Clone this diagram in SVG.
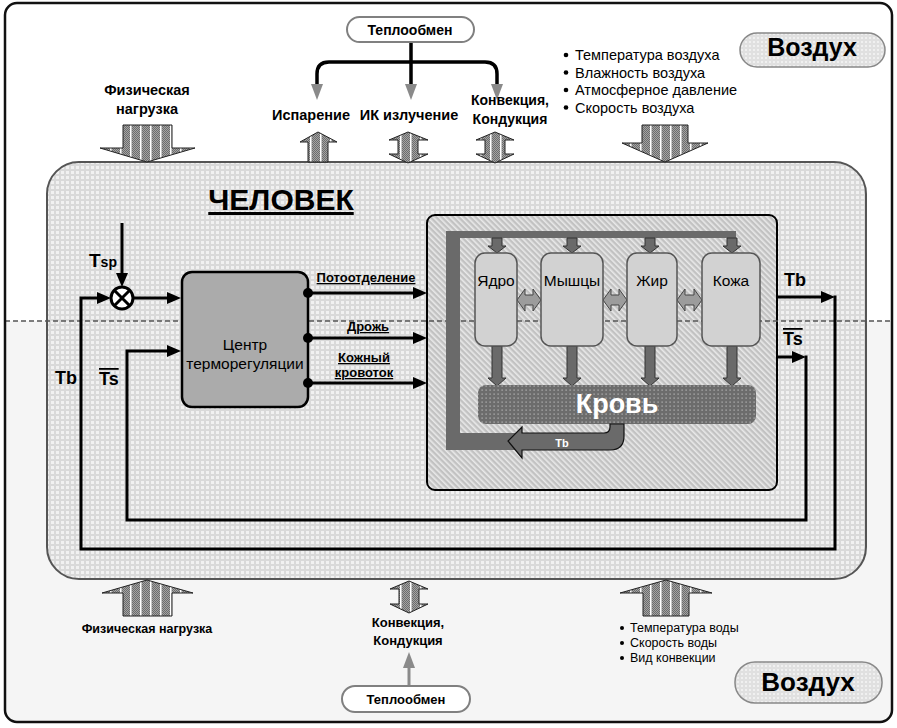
<svg xmlns="http://www.w3.org/2000/svg" width="897" height="728" viewBox="0 0 897 728">
<defs>
<style>
text{font-family:"Liberation Sans",Arial,sans-serif;fill:#000}
.b{font-weight:bold}
.m{text-anchor:middle}
.ln{fill:none;stroke:#000;stroke-width:3}
.blk{fill:url(#stripe);stroke:#222;stroke-width:1}
.org{fill:#d2d2d2;stroke:#555;stroke-width:1.5}
.garr{fill:#6a6a6a;stroke:#333;stroke-width:1}
.darr{fill:#9c9c9c;stroke:#444;stroke-width:1}
.pill{stroke:#808080;stroke-width:2}
</style>
<pattern id="grid" width="5" height="5" patternUnits="userSpaceOnUse">
<rect width="5" height="5" fill="#d9d9d9"/>
<rect x="1" y="1" width="3" height="3" fill="#f1f1f1"/>
</pattern>
<pattern id="grid2" width="4" height="4" patternUnits="userSpaceOnUse">
<rect width="4" height="4" fill="#e0e0e0"/>
<rect x="1" y="1" width="2" height="2" fill="#f0f0f0"/>
</pattern>
<pattern id="hatch" width="4" height="4" patternUnits="userSpaceOnUse" patternTransform="rotate(-45)">
<rect width="4" height="4" fill="#c2c2c2"/>
<rect width="1.6" height="4" fill="#e9e9e9"/>
</pattern>
<pattern id="dots" width="4" height="4" patternUnits="userSpaceOnUse">
<rect width="4" height="4" fill="#6c6c6c"/>
<rect x="1.5" y="1.5" width="1.2" height="1.2" fill="#bdbdbd"/>
</pattern>
<pattern id="stripe" width="10" height="2" patternUnits="userSpaceOnUse">
<rect width="10" height="2" fill="#a4a4a4"/>
<path d="M2 0h1v1h-1zM4 0h1v1h-1zM6 0h1v1h-1zM8 0h1v1h-1zM3 1h1v1h-1zM5 1h1v1h-1zM7 1h1v1h-1zM9 1h1v1h-1z" fill="#6c6c6c"/>
<rect width="1.4" height="2" fill="#ffffff"/>
</pattern>
<marker id="ah" viewBox="0 0 14 12" refX="2" refY="6" markerWidth="14" markerHeight="12" markerUnits="userSpaceOnUse" orient="auto">
<path d="M0 0L14 6L0 12z" fill="#000"/>
</marker>
<marker id="gh" viewBox="0 0 16 12" refX="0" refY="6" markerWidth="16" markerHeight="12" markerUnits="userSpaceOnUse" orient="auto">
<path d="M0 0L16 6L0 12z" fill="#8a8a8a"/>
</marker>
</defs>

<g id="frame">
<rect x="5" y="3" width="887" height="719" rx="12" fill="#f5f5f5"/>
<path d="M5 321V15Q5 3 17 3H880Q892 3 892 15V321Z" fill="#ffffff"/>
</g>

<g id="human">
<rect x="47" y="162" width="819" height="417" rx="32" fill="url(#grid)" stroke="#555" stroke-width="2"/>
<text x="281" y="210" class="b m" font-size="30" text-decoration="underline">ЧЕЛОВЕК</text>
</g>

<g id="body">
<rect x="427" y="215" width="350" height="275" rx="8" fill="url(#hatch)" stroke="#000" stroke-width="2"/>
</g>

<path id="divider" d="M5 321H893" stroke="#555" stroke-width="1.5" stroke-dasharray="5 3" fill="none"/>

<g id="circulation">
<rect x="446" y="231" width="290" height="7" fill="#6a6a6a"/>
<rect x="446" y="231" width="14" height="219" fill="#6a6a6a"/>
<rect x="446" y="433" width="78" height="17" fill="#6a6a6a"/>
<polygon class="garr" points="492,238 502,238 502,246 506,246 497,253 488,246 492,246"/>
<polygon class="garr" points="567,238 577,238 577,246 581,246 572,253 563,246 567,246"/>
<polygon class="garr" points="645,238 655,238 655,246 659,246 650,253 641,246 645,246"/>
<polygon class="garr" points="727,238 737,238 737,246 741,246 732,253 723,246 727,246"/>
<polygon class="garr" points="492,346 502,346 502,378 506,378 497,386 488,378 492,378"/>
<polygon class="garr" points="567,346 577,346 577,378 581,378 572,386 563,378 567,378"/>
<polygon class="garr" points="645,346 655,346 655,378 659,378 650,386 641,378 645,378"/>
<polygon class="garr" points="727,346 737,346 737,378 741,378 732,386 723,378 727,378"/>
<polygon class="darr" points="517,300 525,289 525,295 533,295 533,289 541,300 533,311 533,305 525,305 525,311"/>
<polygon class="darr" points="603,300 611,289 611,295 619,295 619,289 627,300 619,311 619,305 611,305 611,311"/>
<polygon class="darr" points="677,300 685,289 685,295 694,295 694,289 702,300 694,311 694,305 685,305 685,311"/>
</g>

<g id="organ-core"><rect class="org" x="475" y="253" width="42" height="93" rx="10"/><text x="496" y="286" class="m" font-size="15.5">Ядро</text></g>
<g id="organ-muscle"><rect class="org" x="541" y="253" width="62" height="93" rx="10"/><text x="572" y="286" class="m" font-size="15.5">Мышцы</text></g>
<g id="organ-fat"><rect class="org" x="627" y="253" width="50" height="93" rx="10"/><text x="652" y="286" class="m" font-size="15.5">Жир</text></g>
<g id="organ-skin"><rect class="org" x="702" y="253" width="58" height="93" rx="10"/><text x="731" y="286" class="m" font-size="15.5">Кожа</text></g>

<g id="blood">
<rect x="478" y="385" width="278" height="39" rx="8" fill="url(#dots)"/>
<text x="617" y="413" class="b m" font-size="27" style="fill:#fff">Кровь</text>
<path d="M610 424L624 424L624 436Q624 450 610 450L522 450L522 458L508 441L522 427L522 433L604 433Q610 433 610 427Z" fill="#6a6a6a" stroke="#111" stroke-width="1.2"/>
<text x="562" y="447" class="b m" font-size="11" style="fill:#fff">Tb</text>
</g>

<g id="center">
<rect x="182" y="272" width="126" height="135" rx="10" fill="#ababab" stroke="#000" stroke-width="2.5"/>
<text x="245" y="350" class="m" font-size="15.5">Центр</text>
<text x="245" y="369" class="m" font-size="15.5">терморегуляции</text>
</g>

<g id="comparator">
<circle cx="122" cy="298" r="11" fill="#fff" stroke="#000" stroke-width="3"/>
<path d="M114 290L130 306M130 290L114 306" stroke="#000" stroke-width="3"/>
</g>

<g id="connectors">
<path class="ln" d="M122 223V275" marker-end="url(#ah)"/>
<path class="ln" d="M133 298H169" marker-end="url(#ah)"/>
<path class="ln" d="M777 297H823" marker-end="url(#ah)"/>
<path class="ln" d="M835 295.5V549H81V298H99" marker-end="url(#ah)"/>
<path class="ln" d="M777 357H794" marker-end="url(#ah)"/>
<path class="ln" d="M806 355.5V520H127V351H169" marker-end="url(#ah)"/>
<path class="ln" d="M308 293H415" marker-end="url(#ah)"/>
<path class="ln" d="M308 338H415" marker-end="url(#ah)"/>
<path class="ln" d="M308 383H415" marker-end="url(#ah)"/>
<circle cx="308" cy="293" r="5"/>
<circle cx="308" cy="338" r="5"/>
<circle cx="308" cy="383" r="5"/>
<path d="M411 42V84M411 62H329Q317 62 317 74V84M411 62H485Q497 62 497 74V84" fill="none" stroke="#000" stroke-width="3.5"/>
<path d="M411 42V84" fill="none" stroke="none" marker-end="url(#gh)"/>
<path d="M317 74V84" fill="none" stroke="none" marker-end="url(#gh)"/>
<path d="M497 74V84" fill="none" stroke="none" marker-end="url(#gh)"/>
<path d="M409 686V668" fill="none" stroke="#8a8a8a" stroke-width="3" marker-end="url(#gh)"/>
</g>

<g id="labels">
<text x="89" y="267" class="b" font-size="19">T<tspan font-size="14">sp</tspan></text>
<text x="55" y="384" class="b" font-size="18">Tb</text>
<text x="99" y="385" class="b" font-size="18" text-decoration="overline">Ts</text>
<text x="784" y="286" class="b" font-size="18">Tb</text>
<text x="783" y="345" class="b" font-size="18" text-decoration="overline">Ts</text>
<text x="366" y="282" class="b m" font-size="13" text-decoration="underline">Потоотделение</text>
<text x="368" y="331" class="b m" font-size="13" text-decoration="underline">Дрожь</text>
<text x="364" y="362" class="b m" font-size="13" text-decoration="underline">Кожный</text>
<text x="364" y="377" class="b m" font-size="13" text-decoration="underline">кровоток</text>
</g>

<g id="heat-top">
<rect class="pill" x="347" y="17" width="127" height="25" rx="12.5" fill="#fff"/>
<text x="410" y="35" class="b m" font-size="14">Теплообмен</text>
</g>
<g id="heat-bottom">
<rect class="pill" x="342" y="686" width="128" height="26" rx="13" fill="#fff"/>
<text x="406" y="704" class="b m" font-size="13">Теплообмен</text>
</g>

<g id="air-top">
<rect x="740" y="33" width="145" height="34" rx="17" fill="url(#grid2)" stroke="#888" stroke-width="1.5"/>
<text x="812" y="56" class="b m" font-size="25">Воздух</text>
</g>
<g id="air-bottom">
<rect x="735" y="662" width="147" height="41" rx="20" fill="url(#grid2)" stroke="#888" stroke-width="1.5"/>
<text x="808" y="691" class="b m" font-size="26">Воздух</text>
</g>

<g id="load-top">
<polygon class="blk" points="123,125 172,125 172,148 195,148 147,162 100,148 123,148"/>
<text x="147" y="95" class="b m" font-size="14.5">Физическая</text>
<text x="147" y="114" class="b m" font-size="14.5">нагрузка</text>
</g>
<g id="evaporation">
<polygon class="blk" points="308,162 308,142 300,142 318,132 337,142 328,142 328,162"/>
<text x="311" y="120" class="b m" font-size="14.5">Испарение</text>
</g>
<g id="ir">
<polygon class="blk" points="398,140 389,140 408,132 428,140 418,140 418,154 428,154 408,163 389,154 398,154"/>
<text x="409" y="120" class="b m" font-size="14.5">ИК излучение</text>
</g>
<g id="convection-top">
<polygon class="blk" points="485,140 476,140 495,132 514,140 505,140 505,154 514,154 495,163 476,154 485,154"/>
<text x="510" y="105" class="b m" font-size="14">Конвекция,</text>
<text x="510" y="124" class="b m" font-size="14">Кондукция</text>
</g>
<g id="air-params">
<polygon class="blk" points="642,125 688,125 688,143 708,143 665,162 622,143 642,143"/>
<circle cx="566" cy="55" r="2.3"/><text x="575" y="60" font-size="14.5">Температура воздуха</text>
<circle cx="566" cy="72.5" r="2.3"/><text x="575" y="77.5" font-size="14.5">Влажность воздуха</text>
<circle cx="566" cy="90" r="2.3"/><text x="575" y="95" font-size="14.5">Атмосферное давление</text>
<circle cx="566" cy="107.5" r="2.3"/><text x="575" y="112.5" font-size="14.5">Скорость воздуха</text>
</g>

<g id="load-bottom">
<polygon class="blk" points="123,616 123,593 102,593 147,580 193,593 172,593 172,616"/>
<text x="147" y="633" class="b m" font-size="12.5">Физическая нагрузка</text>
</g>
<g id="convection-bottom">
<polygon class="blk" points="399,589 390,589 409,581 428,589 419,589 419,604 428,604 409,613 390,604 399,604"/>
<text x="408" y="627" class="b m" font-size="13">Конвекция,</text>
<text x="408" y="645" class="b m" font-size="13">Кондукция</text>
</g>
<g id="water-params">
<polygon class="blk" points="643,616 643,593 620,593 666,580 712,593 689,593 689,616"/>
<circle cx="622" cy="628" r="2"/><text x="630" y="632" font-size="12.5">Температура воды</text>
<circle cx="622" cy="643" r="2"/><text x="630" y="647" font-size="12.5">Скорость воды</text>
<circle cx="622" cy="658" r="2"/><text x="630" y="662" font-size="12.5">Вид конвекции</text>
</g>

<rect id="border" x="5" y="3" width="887" height="719" rx="12" fill="none" stroke="#111" stroke-width="2.5"/>
</svg>
